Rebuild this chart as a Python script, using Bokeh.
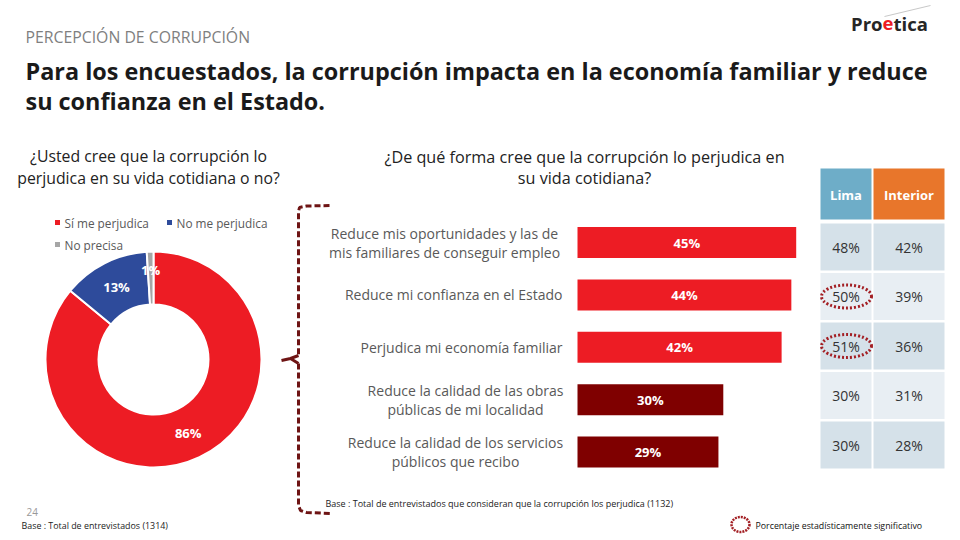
import math
from bokeh.plotting import figure
from bokeh.models import Range1d
from bokeh.core.properties import value
from bokeh.embed import file_html
from bokeh.resources import INLINE

# ---------------- data ----------------
pie_labels = ["Sí me perjudica", "No me perjudica", "No precisa"]
pie_values = [86, 13, 1]

bar_labels = [
    ["Reduce mis oportunidades y las de", "mis familiares de conseguir empleo"],
    ["Reduce mi confianza en el Estado"],
    ["Perjudica mi economía familiar"],
    ["Reduce la calidad de las obras", "públicas de mi localidad"],
    ["Reduce la calidad de los servicios", "públicos que recibo"],
]
bar_values = [45, 44, 42, 30, 29]

table_header = ["Lima", "Interior"]
lima = [48, 50, 51, 30, 30]
interior = [42, 39, 36, 31, 28]
lima_significant = [False, True, True, False, False]

# ---------------- styles ----------------
pie_colors = ["#ED1C24", "#2E4B9B", "#A6A6A6"]
bar_colors = ["#ED1C24", "#ED1C24", "#ED1C24", "#7F0000", "#7F0000"]
FONT = value("Open Sans")
W, H = 952, 536

p = figure(width=W, height=H, output_backend="svg", toolbar_location=None,
           x_range=Range1d(0, W), y_range=Range1d(H, 0),
           x_axis_type=None, y_axis_type=None,
           min_border=0, min_border_left=0, min_border_right=0,
           min_border_top=0, min_border_bottom=0)
p.grid.visible = False
p.outline_line_color = None
p.background_fill_color = "white"
p.border_fill_color = "white"

# bar scale: value 0 at x=577, 4.86 px per percentage point
PX = 4.86
X0 = 577
p.extra_x_ranges = {"bar": Range1d((0 - X0) / PX, (W - X0) / PX)}
# category scale: index 0 at y=242, 52.4 px per category
CY0, CDY = 242, 52.4
p.extra_y_ranges = {"cat": Range1d((H - CY0) / CDY, (0 - CY0) / CDY)}


def txt(x, y, s, size, color="#333333", bold=False, align="left", baseline="middle", **kw):
    p.text(x=[x], y=[y], text=[s], text_font=FONT, text_font_size=f"{size}px",
           text_color=color, text_font_style="bold" if bold else "normal",
           text_align=align, text_baseline=baseline, **kw)


# ---------------- titles ----------------
txt(25, 36, "PERCEPCIÓN DE CORRUPCIÓN", 15.8, "#7F7F7F")
txt(25, 70, "Para los encuestados, la corrupción impacta en la economía familiar y reduce", 23.4, "#1A1A1A", bold=True)
txt(25, 100, "su confianza en el Estado.", 23.4, "#1A1A1A", bold=True)

# logo
p.line(x=[884, 930], y=[16, 5], line_color="#C8C8C8", line_width=1)
txt(882, 23, "Pro", 18.5, "#262626", bold=True, align="right")
txt(882, 23, "e", 18.5, "#ED1C24", bold=True)
txt(893, 23, "tica", 18.5, "#262626", bold=True)

# ---------------- left: donut ----------------
txt(148, 155, "¿Usted cree que la corrupción lo", 15.8, "#222222", align="center")
txt(148, 177, "perjudica en su vida cotidiana o no?", 15.8, "#222222", align="center")

leg_pos = [(57, 222), (169, 222), (57, 244)]
for (lx, ly), lab, col in zip(leg_pos, pie_labels, pie_colors):
    p.rect(x=[lx], y=[ly], width=5, height=5, fill_color=col, line_color=None)
    txt(lx + 7, ly, lab, 11.8, "#595959")

CX, CYd, R_IN, R_OUT = 153, 359, 55, 108
total = sum(pie_values)
cum = 0
starts, ends, mids = [], [], []
for v in pie_values:
    a0 = math.pi / 2 - 2 * math.pi * cum / total
    cum += v
    a1 = math.pi / 2 - 2 * math.pi * cum / total
    starts.append(a0)
    ends.append(a1)
    mids.append((a0 + a1) / 2)
p.annular_wedge(x=CX, y=CYd, inner_radius=R_IN, outer_radius=R_OUT,
                start_angle=starts, end_angle=ends, direction="clock",
                fill_color=pie_colors, line_color="white", line_width=2)
for v, m, rr in zip(pie_values, mids, [81.5, 81.5, 90]):
    txt(CX + rr * math.cos(m), CYd - rr * math.sin(m), f"{v}%", 13, "white", bold=True, align="center")

# ---------------- bracket ----------------
BR = "#6E1414"
p.line(x=[329, 306, 299, 298, 298], y=[205, 205.5, 207, 211, 354], line_color=BR, line_width=3, line_dash="6 3")
p.line(x=[298, 298, 300, 306, 330], y=[363, 505, 510, 512, 513], line_color=BR, line_width=3, line_dash="6 3")
p.line(x=[298, 290, 281], y=[355, 358, 360], line_color=BR, line_width=3)
p.line(x=[290, 298], y=[358, 363], line_color=BR, line_width=3)

# ---------------- middle: bars ----------------
txt(584, 156, "¿De qué forma cree que la corrupción lo perjudica en", 16.2, "#222222", align="center")
txt(584, 177, "su vida cotidiana?", 16.2, "#222222", align="center")

idx = list(range(len(bar_values)))
p.hbar(y=idx, left=0, right=bar_values, height=31 / CDY, fill_color=bar_colors,
       line_color=None, x_range_name="bar", y_range_name="cat")
p.text(x=[v / 2 for v in bar_values], y=idx, text=[f"{v}%" for v in bar_values],
       text_font=FONT, text_font_size="13px", text_font_style="bold", text_color="white",
       text_align="center", text_baseline="middle", x_range_name="bar", y_range_name="cat")

label_cx = [444, None, None, 465, 455]
for i, lines in enumerate(bar_labels):
    if len(lines) == 1:
        p.text(x=[562], y=[i], text=lines, text_font=FONT, text_font_size="14px",
               text_color="#595959", text_align="right", text_baseline="middle", y_range_name="cat")
    else:
        off = 9.5 / CDY
        p.text(x=[label_cx[i]] * 2, y=[i - off, i + off], text=lines, text_font=FONT,
               text_font_size="14px", text_color="#595959", text_align="center",
               text_baseline="middle", y_range_name="cat")

# ---------------- right: table ----------------
col_l = [820, 873]
col_r = [871, 944]
hdr_cols = ["#6EADC8", "#E8762B"]
p.quad(left=col_l, right=col_r, top=[168, 168], bottom=[219, 219], fill_color=hdr_cols, line_color=None)
for c in range(2):
    txt((col_l[c] + col_r[c]) / 2, 194, table_header[c], 13, "white", bold=True, align="center")

row_top0, row_step, row_h = 223, 49.5, 47
for r in range(len(lima)):
    top = row_top0 + r * row_step
    shade = "#D5E1E9" if r % 2 == 0 else "#E8EEF3"
    p.quad(left=col_l, right=col_r, top=[top, top], bottom=[top + row_h] * 2, fill_color=shade, line_color=None)
    cy = top + row_h / 2
    txt((col_l[0] + col_r[0]) / 2, cy, f"{lima[r]}%", 14, "#333333", align="center")
    txt((col_l[1] + col_r[1]) / 2, cy, f"{interior[r]}%", 14, "#333333", align="center")
    if lima_significant[r]:
        p.ellipse(x=[846], y=[cy], width=50, height=23, fill_alpha=0,
                  line_color="#A31F24", line_width=3, line_dash="2 2")

# ---------------- footers ----------------
txt(325, 503, "Base : Total de entrevistados que consideran que la corrupción los perjudica (1132)", 9, "#222222")
txt(26, 511, "24", 10, "#999999")
txt(21, 525, "Base : Total de entrevistados (1314)", 8.9, "#222222")
p.ellipse(x=[740], y=[524], width=18, height=15, fill_alpha=0, line_color="#A31F24", line_width=2.5, line_dash="2 1")
txt(755, 525, "Porcentaje estadísticamente significativo", 8.8, "#111111")

open("out.html", "w").write(file_html(p, INLINE))
